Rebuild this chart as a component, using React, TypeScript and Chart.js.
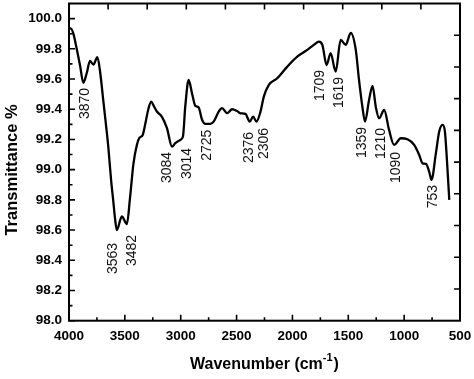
import React, { useEffect, useRef } from "react";
import { Chart, registerables } from "chart.js";

Chart.register(...registerables);

// Spectrum (wavenumber in cm-1, transmittance in %)
const wavenumbers = [
  4000, 3985, 3961, 3931, 3901, 3872, 3841, 3812, 3782, 3746, 3722, 3692, 3662, 3647, 3623,
  3602, 3587, 3572, 3527, 3482, 3453, 3423, 3392, 3370, 3340, 3318, 3290, 3264, 3240, 3213,
  3168, 3123, 3078, 3049, 3004, 2980, 2959, 2929, 2899, 2869, 2840, 2809, 2780, 2735, 2705,
  2660, 2630, 2585, 2540, 2500, 2465, 2421, 2382, 2352, 2322, 2286, 2256, 2211, 2136, 2046,
  1957, 1867, 1808, 1763, 1732, 1694, 1658, 1613, 1568, 1523, 1478, 1433, 1404, 1374, 1350,
  1314, 1283, 1254, 1224, 1179, 1135, 1090, 1030, 970, 910, 865, 835, 805, 776, 755,
  716, 686, 656, 635, 617, 596,
];
const transmittance = [
  99.93, 99.935, 99.9, 99.8, 99.69, 99.575, 99.64, 99.72, 99.695, 99.745, 99.65, 99.45, 99.25, 99.14, 98.93,
  98.78, 98.67, 98.6, 98.69, 98.64, 98.82, 99.04, 99.165, 99.21, 99.23, 99.3, 99.4, 99.45, 99.42, 99.385,
  99.35, 99.275, 99.152, 99.175, 99.197, 99.22, 99.42, 99.594, 99.506, 99.422, 99.413, 99.33, 99.303, 99.303, 99.318,
  99.384, 99.407, 99.374, 99.4, 99.39, 99.373, 99.369, 99.318, 99.351, 99.318, 99.384, 99.483, 99.561, 99.605, 99.682,
  99.748, 99.793, 99.826, 99.848, 99.826, 99.693, 99.771, 99.649, 99.859, 99.826, 99.905, 99.793, 99.594, 99.417, 99.318,
  99.462, 99.554, 99.417, 99.34, 99.395, 99.263, 99.164, 99.208, 99.201, 99.164, 99.097, 99.042, 99.038, 98.987, 98.932,
  99.108, 99.252, 99.296, 99.252, 99.064, 98.8,
];

const xTickValues = [4000, 3500, 3000, 2500, 2000, 1500, 1000, 500];
const yTickValues = [98.0, 98.2, 98.4, 98.6, 98.8, 99.0, 99.2, 99.4, 99.6, 99.8, 100.0];

// Peak annotations: text, anchor wavenumber, transmittance at top end of the text
const peakLabels = ["3870", "3563", "3482", "3084", "3014", "2725", "2376", "2306", "1709", "1619", "1359", "1210", "1090", "753"];
const peakLabelWn = [3856, 3602, 3437, 3123, 2944, 2764, 2391, 2256, 1748, 1583, 1373, 1209, 1074, 740];
const peakLabelTop = [99.541, 98.515, 98.568, 99.117, 99.144, 99.265, 99.25, 99.276, 99.66, 99.614, 99.283, 99.276, 99.117, 98.899];

const FONT = "'Liberation Sans', Arial, sans-serif";

const decorPlugin = {
  id: "decor",
  afterDraw(chart: any) {
    const { ctx, chartArea } = chart;
    const { left, right, top, bottom } = chartArea;
    const xs = chart.scales.x;
    const ys = chart.scales.y;
    ctx.save();
    ctx.strokeStyle = "#000";
    ctx.lineWidth = 2;
    ctx.lineCap = "butt";
    ctx.strokeRect(left, top, right - left, bottom - top);

    ctx.lineWidth = 1.6;
    ctx.beginPath();
    // bottom ticks (inward)
    for (let v = 500; v <= 4000; v += 250) {
      const px = xs.getPixelForValue(v);
      const len = v % 500 === 0 ? 6 : 3.5;
      ctx.moveTo(px, bottom);
      ctx.lineTo(px, bottom - len);
    }
    // left ticks (inward)
    for (let i = 0; i <= 20; i++) {
      const v = 98 + i * 0.1;
      const py = ys.getPixelForValue(v);
      const len = i % 2 === 0 ? 6 : 3.5;
      ctx.moveTo(left, py);
      ctx.lineTo(left + len, py);
    }
    // top and right mirror ticks
    for (let i = 1; i < 10; i++) {
      const px = left + ((right - left) * i) / 10;
      ctx.moveTo(px, top);
      ctx.lineTo(px, top + 6);
      const py = bottom - ((bottom - top) * i) / 10;
      ctx.moveTo(right, py);
      ctx.lineTo(right - 6, py);
    }
    ctx.stroke();

    // peak labels
    ctx.fillStyle = "#111";
    ctx.font = `14px ${FONT}`;
    ctx.textAlign = "right";
    ctx.textBaseline = "middle";
    peakLabels.forEach((t, i) => {
      const px = xs.getPixelForValue(peakLabelWn[i]);
      const py = ys.getPixelForValue(peakLabelTop[i]);
      ctx.save();
      ctx.translate(px, py);
      ctx.rotate(-Math.PI / 2);
      ctx.fillText(t, 0, 0);
      ctx.restore();
    });

    // y title
    ctx.fillStyle = "#000";
    ctx.font = `bold 16.5px ${FONT}`;
    ctx.textAlign = "center";
    ctx.textBaseline = "middle";
    ctx.save();
    ctx.translate(12, 170);
    ctx.rotate(-Math.PI / 2);
    ctx.fillText("Transmittance %", 0, 0);
    ctx.restore();

    // x title with superscript
    const main = "Wavenumber (cm";
    const sup = "-1";
    const close = ")";
    ctx.save();
    const cx = (left + right) / 2;
    ctx.translate(cx, 369);
    ctx.textBaseline = "alphabetic";
    ctx.textAlign = "left";
    ctx.font = `bold 16px ${FONT}`;
    const wMain = ctx.measureText(main).width;
    const wClose = ctx.measureText(close).width;
    ctx.font = `bold 11px ${FONT}`;
    const wSup = ctx.measureText(sup).width;
    const total = wMain + wSup + wClose + 1;
    let x0 = -total / 2;
    ctx.font = `bold 16px ${FONT}`;
    ctx.fillText(main, x0, 0);
    x0 += wMain;
    ctx.font = `bold 11px ${FONT}`;
    ctx.fillText(sup, x0, -8);
    x0 += wSup + 1;
    ctx.font = `bold 16px ${FONT}`;
    ctx.fillText(close, x0, 0);
    ctx.restore();

    ctx.restore();
  },
};

export default function App() {
  const ref = useRef<HTMLCanvasElement | null>(null);
  useEffect(() => {
    if (!ref.current) return;
    const chart = new Chart(ref.current, {
      type: "line",
      data: {
        datasets: [
          {
            data: wavenumbers.map((w, i) => ({ x: w, y: transmittance[i] })),
            borderColor: "#000",
            borderWidth: 2.3,
            pointRadius: 0,
            fill: false,
            cubicInterpolationMode: "monotone",
          },
        ],
      },
      options: {
        animation: false,
        responsive: false,
        maintainAspectRatio: false,
        layout: { padding: { left: 0, right: 14, top: 3.5, bottom: 0 } },
        plugins: { legend: { display: false }, tooltip: { enabled: false } },
        scales: {
          x: {
            type: "linear",
            reverse: true,
            min: 500,
            max: 4000,
            afterBuildTicks: (s: any) => {
              s.ticks = xTickValues.map((v) => ({ value: v }));
            },
            afterFit: (s: any) => {
              s.height = 58.3;
              s.paddingLeft = 0;
              s.paddingRight = 0;
            },
            grid: { display: false, drawTicks: false },
            border: { display: false },
            ticks: {
              font: { family: FONT, weight: "bold", size: 13.5 },
              color: "#000",
              padding: 7,
              maxRotation: 0,
              autoSkip: false,
              callback: (v: any) => String(v),
            },
          },
          y: {
            type: "linear",
            min: 98,
            max: 100.1,
            afterBuildTicks: (s: any) => {
              s.ticks = yTickValues.map((v) => ({ value: v }));
            },
            afterFit: (s: any) => {
              s.width = 69;
              s.paddingTop = 0;
              s.paddingBottom = 0;
            },
            grid: { display: false, drawTicks: false },
            border: { display: false },
            ticks: {
              font: { family: FONT, weight: "bold", size: 13.5 },
              color: "#000",
              padding: 7,
              autoSkip: false,
              callback: (v: any) => Number(v).toFixed(1),
            },
          },
        },
      },
      plugins: [decorPlugin],
    } as any);
    return () => chart.destroy();
  }, []);
  return (
    <div style={{ position: "fixed", left: 0, top: 0, width: 474, height: 379, background: "#fff" }}>
      <canvas ref={ref} width={474} height={379} style={{ display: "block" }} />
    </div>
  );
}
